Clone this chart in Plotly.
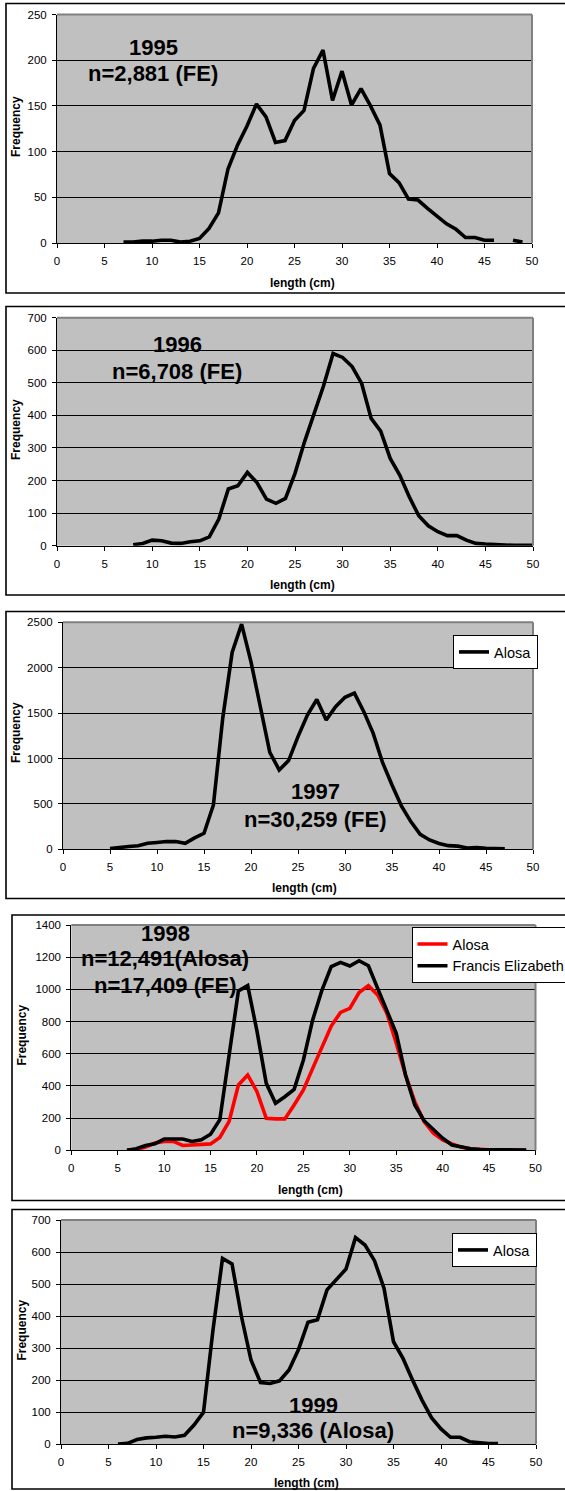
import plotly.graph_objects as go

W, H = 565, 1491
FONT = "Liberation Sans, Arial, sans-serif"

# ---------------- data ----------------
len_1995 = list(range(7, 50))
fe_1995 = [1, 1, 2, 2, 3, 3, 1, 2, 5, 16, 33, 81, 107, 128, 152, 138, 110, 112, 134, 145,
           191, 211, 156, 188, 151, 169, 150, 129, 76, 66, 48, 47, 38, 29, 21, 15, 6, 6, 3, 3,
           None, 3, 1]

len_1996 = list(range(8, 51))
fe_1996 = [3, 7, 17, 15, 8, 7, 12, 15, 27, 82, 174, 184, 225, 194, 143, 130, 145, 222, 319, 401,
           491, 590, 578, 550, 498, 391, 352, 268, 217, 150, 92, 61, 43, 31, 31, 17, 7, 5, 3, 2,
           1, 1, 1]

len_1997 = list(range(5, 48))
alosa_1997 = [8, 15, 30, 40, 66, 75, 85, 85, 66, 125, 176, 488, 1450, 2170, 2480, 2065, 1550, 1068, 874, 977,
              1241, 1479, 1650, 1424, 1571, 1674, 1720, 1516, 1277, 954, 708, 477, 305, 165, 103, 65, 40, 35, 15, 20,
              10, 6, 5]

len_1998 = list(range(6, 50))
alosa_1998 = [0, 5, 20, 45, 55, 55, 30, 35, 40, 40, 80, 180, 406, 468, 364, 199, 195, 195, 282, 375,
              509, 644, 772, 857, 882, 980, 1023, 965, 851, 665, 468, 302, 178, 106, 64, 40, 20, 10, 5, 3,
              2, 1, 1, 0]
fe_1998 = [0, 10, 30, 40, 70, 70, 70, 55, 65, 100, 190, 592, 990, 1023, 740, 416, 292, 333, 379, 561,
           810, 996, 1141, 1168, 1145, 1178, 1147, 1006, 872, 727, 468, 282, 184, 126, 75, 33, 20, 10, 5, 5,
           3, 2, 2, 1]

len_1999 = list(range(6, 47))
alosa_1999 = [1, 3, 15, 20, 22, 25, 23, 28, 60, 100, 357, 580, 563, 398, 263, 193, 190, 198, 232, 296,
              381, 389, 482, 513, 547, 645, 622, 573, 487, 320, 268, 201, 138, 83, 48, 22, 22, 8, 5, 2,
              2]

years = ["1995", "1996", "1997", "1998", "1999"]
y_max = [250, 700, 2500, 1400, 700]
y_step = [50, 100, 500, 200, 100]
x_ticks = list(range(0, 51, 5))

# ---------------- layout geometry (pixels) ----------------
plot_px = [  # x0, x1, ytop, ybottom
    (57, 532, 14.5, 243),
    (57, 533, 317.7, 545.7),
    (63, 533, 622.3, 849.3),
    (71.3, 535.5, 925, 1150.3),
    (61, 536, 1220, 1444.3),
]
box_px = [  # x0, ytop, ybottom
    (6, 3.5, 293),
    (6, 306.5, 595),
    (6, 611.5, 898.5),
    (12, 915, 1200.5),
    (12, 1209.5, 1489),
]


def px(x):
    return x / W


def py(y):
    return 1 - y / H


fig = go.Figure()

series = [
    [(len_1995, fe_1995, "FE 1995", "black", None)],
    [(len_1996, fe_1996, "FE 1996", "black", None)],
    [(len_1997, alosa_1997, "Alosa", "black", "legend")],
    [(len_1998, alosa_1998, "Alosa", "#FF0000", "legend2"),
     (len_1998, fe_1998, "Francis Elizabeth", "black", "legend2")],
    [(len_1999, alosa_1999, "Alosa", "black", "legend3")],
]

for i, group in enumerate(series):
    n = "" if i == 0 else str(i + 1)
    for xs, ys, name, col, leg in group:
        kw = dict(x=xs, y=ys, mode="lines", name=name,
                  line=dict(color=col, width=3.6), connectgaps=False,
                  xaxis="x" + n, yaxis="y" + n, hoverinfo="x+y")
        if leg is None:
            kw["showlegend"] = False
        else:
            kw["showlegend"] = True
            kw["legend"] = leg
        fig.add_trace(go.Scatter(**kw))

layout = dict(
    width=W, height=H,
    margin=dict(l=0, r=0, t=0, b=0, autoexpand=False),
    paper_bgcolor="white",
    plot_bgcolor="#C0C0C0",
    font=dict(family=FONT, color="black"),
)

shapes = []
annotations = []
for i in range(5):
    n = "" if i == 0 else str(i + 1)
    x0, x1, yt, yb = plot_px[i]
    layout["xaxis" + n] = dict(
        domain=[px(x0), px(x1)], range=[0, 50], tickvals=x_ticks,
        anchor="y" + n, showgrid=False, zeroline=False,
        showline=True, linecolor="black", linewidth=1,
        ticks="outside", ticklen=4, tickcolor="black", tickwidth=1,
        tickfont=dict(size=11.5, family=FONT, color="black"),
        ticklabelstandoff=3, fixedrange=True,
    )
    layout["yaxis" + n] = dict(
        domain=[py(yb), py(yt)], range=[0, y_max[i]],
        tickvals=list(range(0, y_max[i] + 1, y_step[i])),
        anchor="x" + n, showgrid=True, gridcolor="black", gridwidth=1,
        zeroline=False, showline=True, linecolor="black", linewidth=1,
        ticks="outside", ticklen=4, tickcolor="black", tickwidth=1,
        tickfont=dict(size=11.5, family=FONT, color="black"),
        ticklabelstandoff=3, fixedrange=True,
    )
    # grey plot-area border (top and right)
    shapes.append(dict(type="line", xref="x" + n + " domain", yref="y" + n + " domain",
                       x0=0, x1=1, y0=1, y1=1, line=dict(color="#808080", width=2), layer="above"))
    shapes.append(dict(type="line", xref="x" + n + " domain", yref="y" + n + " domain",
                       x0=1, x1=1, y0=0, y1=1, line=dict(color="#808080", width=2), layer="above"))
    # outer chart frame
    bx0, bt, bb = box_px[i]
    shapes.append(dict(type="rect", xref="paper", yref="paper",
                       x0=px(bx0), x1=px(580), y0=py(bb), y1=py(bt),
                       line=dict(color="black", width=1.6), fillcolor="rgba(0,0,0,0)", layer="below"))

# axis titles
freq_pos = [(16, 127), (16, 430), (16, 733), (21.6, 1035), (21.6, 1330)]
len_pos = [(302, 282.5), (302, 585), (304, 887.5), (310, 1190), (306, 1483)]
for (fx, fy), (lx, ly) in zip(freq_pos, len_pos):
    annotations.append(dict(text="<b>Frequency</b>", x=px(fx), y=py(fy), xref="paper", yref="paper",
                            showarrow=False, textangle=-90, xanchor="center", yanchor="middle",
                            font=dict(size=12, family=FONT, color="black")))
    annotations.append(dict(text="<b>length (cm)</b>", x=px(lx), y=py(ly), xref="paper", yref="paper",
                            showarrow=False, xanchor="center", yanchor="middle",
                            font=dict(size=12, family=FONT, color="black")))

# year / sample-size labels
labels = [
    [("1995", 153, 47.5), ("n=2,881 (FE)", 153, 74)],
    [("1996", 177, 345), ("n=6,708 (FE)", 177, 372)],
    [("1997", 315, 791.5), ("n=30,259 (FE)", 315, 819)],
    [("1998", 165, 933), ("n=12,491(Alosa)", 165, 959), ("n=17,409 (FE)", 165, 985)],
    [("1999", 313, 1405), ("n=9,336 (Alosa)", 313, 1430.5)],
]
for grp in labels:
    for t, x, y in grp:
        annotations.append(dict(text="<b>" + t + "</b>", x=px(x), y=py(y), xref="paper", yref="paper",
                                showarrow=False, xanchor="center", yanchor="middle",
                                font=dict(size=22, family=FONT, color="black")))

leg_common = dict(xanchor="left", yanchor="top", bgcolor="white", bordercolor="black",
                  borderwidth=1, font=dict(size=14.5, family=FONT, color="black"),
                  tracegroupgap=0, itemclick=False, itemdoubleclick=False)
layout["legend"] = dict(x=px(453), y=py(635), **leg_common)
layout["legend2"] = dict(x=px(411.5), y=py(927), **leg_common)
layout["legend3"] = dict(x=px(452), y=py(1233), **leg_common)

layout["shapes"] = shapes
layout["annotations"] = annotations
fig.update_layout(**layout)

fig.write_html("out.html")
